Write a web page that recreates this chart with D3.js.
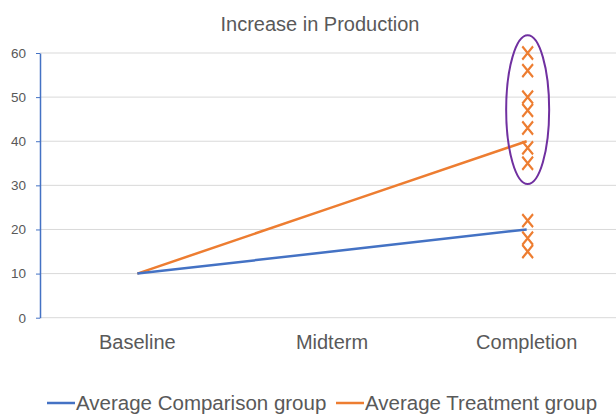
<!DOCTYPE html>
<html>
<head>
<meta charset="utf-8">
<script src="https://cdn.jsdelivr.net/npm/d3@7"></script>
<style>
  body { margin: 0; background: #fff; }
  text { font-family: "Liberation Sans", Arial, sans-serif; fill: #595959; }
</style>
</head>
<body>
<div id="chart"></div>
<script>
// chart values
const categories = ['Baseline', 'Midterm', 'Completion']
const comparisonAvg = [10, 15, 20]
const treatmentAvg = [10, 25, 40]
const treatmentScores = [60, 56, 50, 47, 43, 38.5, 35]
const comparisonScores = [22, 18, 15]
const yTicks = [0, 10, 20, 30, 40, 50, 60]
const highlightRange = [30.3, 64]   // circled treatment scores
const seriesNames = ['Average Comparison group', 'Average Treatment group']

var width = 616, height = 414
var margin = {top: 53, right: 0, bottom: 96, left: 40}

const svg = d3.select('#chart')
  .append('svg')
  .attr('width', width)
  .attr('height', height)

var x = d3.scaleBand()
  .domain(categories)
  .range([margin.left, 624])

var y = d3.scaleLinear()
  .domain([0, 60])
  .range([height - margin.bottom - 0.3, margin.top])

// title
svg.append('text')
  .attr('x', 320)
  .attr('y', 31)
  .attr('text-anchor', 'middle')
  .style('font-size', '20px')
  .text('Increase in Production')

// gridlines
svg.append('g')
  .selectAll('line')
  .data(yTicks.filter(d => d > 0))
  .enter().append('line')
  .attr('x1', margin.left)
  .attr('x2', width)
  .attr('y1', d => y(d))
  .attr('y2', d => y(d))
  .attr('stroke', '#d9d9d9')
  .attr('stroke-width', 1)

// x axis
const xAxis = svg.append('g')
  .attr('transform', `translate(0,${y(0)})`)
  .call(d3.axisBottom(x).tickSize(0).tickPadding(17))
xAxis.select('.domain').attr('stroke', '#d9d9d9').attr('d', `M${margin.left},0H${width}`)
xAxis.selectAll('text')
  .style('font-size', '20px')
  .attr('fill', '#595959')
  .style('font-family', '"Liberation Sans", Arial, sans-serif')

// y axis
const yAxis = svg.append('g')
  .attr('transform', `translate(${margin.left},0)`)
  .call(d3.axisLeft(y).tickValues(yTicks).tickSize(4).tickPadding(10).tickSizeOuter(0))
yAxis.select('.domain').attr('stroke', '#4472c4').attr('stroke-width', 1.5)
yAxis.selectAll('.tick line').attr('stroke', '#4472c4')
yAxis.selectAll('text')
  .style('font-size', '13.5px')
  .attr('fill', '#595959')
  .style('font-family', '"Liberation Sans", Arial, sans-serif')

const cx = i => x(categories[i]) + x.bandwidth() / 2

// average lines
const line = d3.line()
  .x((d, i) => cx(i))
  .y(d => y(d))

svg.append('path')
  .datum(treatmentAvg)
  .attr('fill', 'none')
  .attr('stroke', '#ed7d31')
  .attr('stroke-width', 2.5)
  .attr('d', line)

svg.append('path')
  .datum(comparisonAvg)
  .attr('fill', 'none')
  .attr('stroke', '#4472c4')
  .attr('stroke-width', 2.5)
  .attr('d', line)

// individual scores at completion
const xMark = d3.symbol().type(d3.symbolX).size(95)
svg.append('g')
  .selectAll('path')
  .data(treatmentScores.concat(comparisonScores))
  .enter().append('path')
  .attr('d', xMark)
  .attr('transform', d => `translate(${cx(2) + 1},${y(d)}) scale(0.9,1.1)`)
  .attr('fill', 'none')
  .attr('stroke', '#ed7d31')
  .attr('stroke-width', 2.3)

// highlight ellipse
svg.append('ellipse')
  .attr('cx', cx(2) + 1)
  .attr('cy', (y(highlightRange[0]) + y(highlightRange[1])) / 2)
  .attr('rx', 21.5)
  .attr('ry', (y(highlightRange[0]) - y(highlightRange[1])) / 2)
  .attr('fill', 'none')
  .attr('stroke', '#7030a0')
  .attr('stroke-width', 2)

// legend
const legendColors = ['#4472c4', '#ed7d31']
const legendX = [47, 336]
const legend = svg.append('g')
  .selectAll('g')
  .data(seriesNames)
  .enter().append('g')
  .attr('transform', (d, i) => `translate(${legendX[i]},403)`)
legend.append('line')
  .attr('x1', 0).attr('x2', 28)
  .attr('stroke', (d, i) => legendColors[i])
  .attr('stroke-width', 2.5)
legend.append('text')
  .attr('x', 29)
  .attr('y', 7)
  .style('font-size', '20.5px')
  .text(d => d)
</script>
</body>
</html>
